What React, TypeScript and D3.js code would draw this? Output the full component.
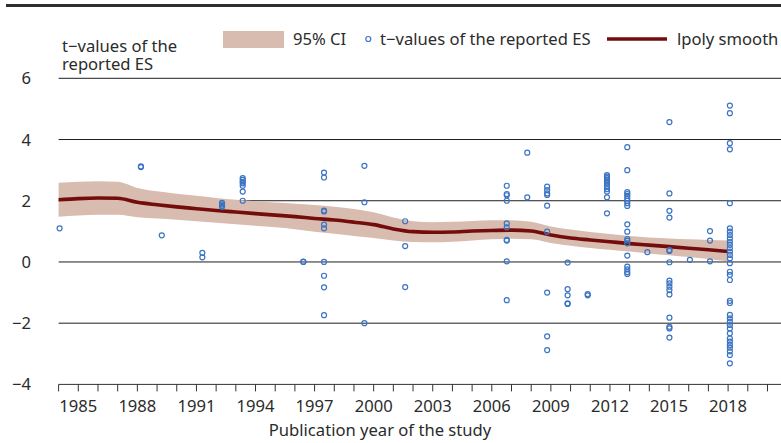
import React from "react";
import * as d3 from "d3";

const smoothYears = [1984,1985,1986,1987,1988,1989,1990,1991,1992,1993,1994,1995,1996,1997,1998,1999,2000,2001,2002,2003,2004,2005,2006,2007,2008,2009,2010,2011,2012,2013,2014,2015,2016,2017,2018];
const smoothFit = [2.03,2.07,2.09,2.08,1.95,1.87,1.80,1.74,1.68,1.63,1.58,1.53,1.48,1.42,1.37,1.30,1.22,1.08,0.99,0.97,0.98,1.01,1.03,1.04,1.01,0.88,0.78,0.72,0.66,0.60,0.55,0.50,0.45,0.40,0.34];
const ciUpper = [2.59,2.62,2.64,2.62,2.42,2.31,2.23,2.16,2.09,2.03,1.98,1.94,1.90,1.86,1.80,1.73,1.62,1.45,1.33,1.30,1.31,1.34,1.36,1.36,1.31,1.16,1.06,0.98,0.91,0.85,0.80,0.77,0.74,0.72,0.70];
const ciLower = [1.48,1.52,1.54,1.54,1.46,1.42,1.38,1.33,1.28,1.23,1.18,1.13,1.07,0.99,0.92,0.85,0.78,0.70,0.65,0.64,0.66,0.70,0.74,0.76,0.74,0.62,0.53,0.46,0.40,0.34,0.28,0.22,0.16,0.10,0.02];

const studyYears = [1984.05,1988.18,1989.24,1991.3,1992.3,1993.35,1996.43,1997.48,1999.53,2001.6,2006.76,2007.8,2008.81,2009.85,2010.87,2011.85,2012.88,2013.9,2015.02,2016.06,2017.08,2018.09];
const tValues: number[][] = [
  [1.1],
  [3.1, 3.12],
  [0.87],
  [0.3, 0.15],
  [1.93, 1.88, 1.83, 1.8],
  [2.74, 2.68, 2.62, 2.57, 2.49, 2.3, 2.0],
  [0.0, 0.01],
  [2.92, 2.76, 1.68, 1.65, 1.22, 1.1, 0.0, -0.45, -0.83, -1.74],
  [3.14, 1.95, -2.0],
  [1.33, 0.52, -0.82],
  [2.49, 2.22, 2.18, 2.0, 1.26, 1.13, 0.72, 0.7, 0.02, -1.25],
  [3.57, 2.11],
  [2.46, 2.35, 2.24, 2.19, 1.84, 0.99, -1.0, -2.43, -2.88],
  [-0.02, -0.89, -1.09, -1.35, -1.37],
  [-1.05, -1.09],
  [2.84, 2.79, 2.74, 2.68, 2.62, 2.57, 2.48, 2.38, 2.3, 2.11, 1.59],
  [3.75, 3.0, 2.28, 2.22, 2.16, 2.08, 2.0, 1.92, 1.83, 1.23, 0.99, 0.75, 0.7, 0.61, 0.21, -0.15, -0.24, -0.33, -0.39],
  [0.32],
  [4.57, 2.24, 1.67, 1.45, 0.39, 0.36, -0.01, -0.61, -0.7, -0.81, -0.92, -1.06, -1.82, -2.12, -2.17, -2.47],
  [0.07],
  [1.01, 0.7, 0.02],
  [5.11, 4.86, 3.88, 3.68, 1.92, 1.1, 0.99, 0.88, 0.77, 0.66, 0.56, 0.45, 0.34, 0.23, 0.12, -0.04, -0.32, -0.42, -0.59, -1.27, -1.34, -1.73, -1.84, -1.95, -2.06, -2.17, -2.33, -2.5, -2.6, -2.71, -2.8, -2.92, -3.04, -3.31],
];

const yTicks = [6, 4, 2, 0, -2, -4];
const xTickYears = d3.range(1984, 2021);
const xLabelYears = [1985, 1988, 1991, 1994, 1997, 2000, 2003, 2006, 2009, 2012, 2015, 2018];

const W = 781;
const H = 443;
const FONT = "'Noto Sans', sans-serif";
const TEXT = "#2b2b2b";
const FS = 16.6;

export default function App() {
  const x = d3.scaleLinear().domain([1985, 2018]).range([78.3, 728.1]);
  const y = d3.scaleLinear().domain([-4, 6]).range([384.4, 78.3]);
  const xStart = x(1984);

  const area = d3
    .area<number>()
    .x((_, i) => x(smoothYears[i]))
    .y0((_, i) => y(ciLower[i]))
    .y1((_, i) => y(ciUpper[i]))
    .curve(d3.curveMonotoneX);
  const line = d3
    .line<number>()
    .x((_, i) => x(smoothYears[i]))
    .y((d) => y(d))
    .curve(d3.curveMonotoneX);

  const points: { px: number; py: number }[] = [];
  studyYears.forEach((yr, i) => {
    tValues[i].forEach((v) => points.push({ px: x(yr), py: y(v) }));
  });

  const fmt = (v: number) => (v < 0 ? "\u2212" + Math.abs(v) : String(v));

  return (
    <svg width={W} height={H} style={{ position: "absolute", left: 0, top: 0 }} fontFamily={FONT}>
      <rect x={0} y={0} width={W} height={H} fill="#fff" />
      <line x1={6} x2={W} y1={5.5} y2={5.5} stroke="#2e2e2e" strokeWidth={3} />

      {yTicks.map((t) => (
        <g key={t}>
          {t > -4 && (
            <line x1={xStart} x2={W} y1={y(t)} y2={y(t)} stroke="#1e1e1e" strokeWidth={1} />
          )}
          <text x={31} y={y(t) + 6} textAnchor="end" fontSize={FS} fill={TEXT}>
            {fmt(t)}
          </text>
        </g>
      ))}

      <path d={area(smoothFit) || ""} fill="#d8bcaf" />
      <path d={line(smoothFit) || ""} fill="none" stroke="#740c0c" strokeWidth={3.6} />

      {points.map((p, i) => (
        <circle key={i} cx={p.px} cy={p.py} r={2.5} fill="none" stroke="#3b74c2" strokeWidth={1.2} />
      ))}

      <line x1={xStart} x2={W} y1={y(-4)} y2={y(-4)} stroke="#333" strokeWidth={1} />
      {xTickYears.map((yr) => (
        <line key={yr} x1={x(yr)} x2={x(yr)} y1={y(-4)} y2={y(-4) + 7} stroke="#333" strokeWidth={1} />
      ))}
      {xLabelYears.map((yr) => (
        <text key={yr} x={x(yr)} y={412} textAnchor="middle" fontSize={FS} fill={TEXT}>
          {yr}
        </text>
      ))}
      <text x={380} y={436} textAnchor="middle" fontSize={FS} fill={TEXT}>
        Publication year of the study
      </text>

      <text x={62} y={51.5} fontSize={FS} fill={TEXT}>
        <tspan x={62} y={51.5}>t{"\u2212"}values of the</tspan>
        <tspan x={62} y={70}>reported ES</tspan>
      </text>

      <rect x={223} y={31} width={61} height={17} fill="#d8bcaf" />
      <text x={293} y={45} fontSize={FS} fill={TEXT}>
        95% CI
      </text>
      <circle cx={368.3} cy={39} r={2.5} fill="none" stroke="#3b74c2" strokeWidth={1.2} />
      <text x={380} y={45} fontSize={FS} fill={TEXT}>
        t{"\u2212"}values of the reported ES
      </text>
      <line x1={607} x2={667} y1={39} y2={39} stroke="#740c0c" strokeWidth={3.6} />
      <text x={677} y={45} fontSize={FS} fill={TEXT}>
        lpoly smooth
      </text>
    </svg>
  );
}
